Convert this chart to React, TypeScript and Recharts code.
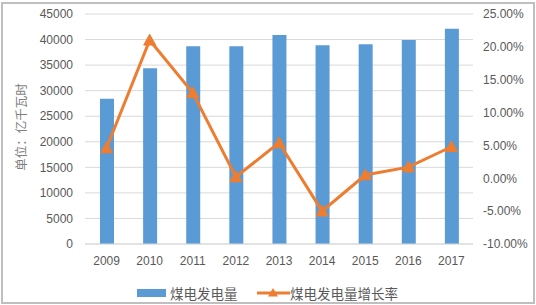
import React from 'react';
import { ComposedChart, Bar, Line, XAxis, YAxis, CartesianGrid, Legend } from 'recharts';

const years = ['2009', '2010', '2011', '2012', '2013', '2014', '2015', '2016', '2017'];
const coalPower = [28400, 34400, 38700, 38700, 40900, 38900, 39100, 39900, 42100];
const growthRate = [0.046, 0.21, 0.13, 0.002, 0.054, -0.05, 0.005, 0.017, 0.048];
const leftTicks = [0, 5000, 10000, 15000, 20000, 25000, 30000, 35000, 40000, 45000];
const rightTicks = [-0.1, -0.05, 0, 0.05, 0.1, 0.15, 0.2, 0.25];
const barName = '煤电发电量';
const lineName = '煤电发电量增长率';
const yLabel = '单位：亿千瓦时';

const data = years.map((y, i) => ({ year: y, power: coalPower[i], rate: growthRate[i] }));

const BLUE = '#5B9BD5';
const ORANGE = '#ED7D31';
const TEXT = '#595959';
const FONT = '"Liberation Sans", Arial, sans-serif';
const CJK = '"Noto Sans CJK SC", sans-serif';

const Triangle = (props: any) => {
  const { cx, cy } = props;
  if (cx == null || cy == null) return null;
  const s = 6;
  return (
    <polygon
      points={`${cx},${cy - s} ${cx + s},${cy + s * 0.8} ${cx - s},${cy + s * 0.8}`}
      fill={ORANGE}
      stroke={ORANGE}
    />
  );
};

const YLabel = () => {
  const x = 20;
  const y = 127;
  return (
    <text
      x={x}
      y={y}
      transform={`rotate(-90 ${x} ${y})`}
      textAnchor="middle"
      dominantBaseline="central"
      fill="#7F7F7F"
      fontSize={12.5}
      fontFamily={CJK}
    >
      {yLabel}
    </text>
  );
};

const LegendContent = () => (
  <div style={{ position: 'relative', height: 20, width: 536 }}>
    <div style={{ position: 'absolute', left: 137, top: 6, width: 29, height: 8, background: BLUE }} />
    <span style={{ position: 'absolute', left: 170, top: 0, fontSize: 13.5, lineHeight: '20px', color: TEXT, fontFamily: CJK, whiteSpace: 'nowrap' }}>{barName}</span>
    <svg style={{ position: 'absolute', left: 256, top: 0 }} width={34} height={20}>
      <line x1={1} y1={10} x2={34} y2={10} stroke={ORANGE} strokeWidth={3} />
      <polygon points="17,5 22,13.5 12,13.5" fill={ORANGE} />
    </svg>
    <span style={{ position: 'absolute', left: 290, top: 0, fontSize: 13.5, lineHeight: '20px', color: TEXT, fontFamily: CJK, whiteSpace: 'nowrap' }}>{lineName}</span>
  </div>
);

export default function App() {
  return (
    <div style={{ position: 'absolute', left: 0, top: 0, width: 536, height: 305, background: '#fff' }}>
      <ComposedChart
        width={536}
        height={305}
        data={data}
        margin={{ top: 14, right: 0, bottom: 2, left: 0 }}
      >
        <CartesianGrid vertical={false} stroke="#D9D9D9" yAxisId="left" />
        <XAxis
          dataKey="year"
          height={39}
          tickLine={false}
          tickSize={0}
          tickMargin={12}
          axisLine={{ stroke: '#D9D9D9' }}
          tick={{ fill: TEXT, fontSize: 12, fontFamily: FONT }}
        />
        <YAxis
          yAxisId="left"
          width={85}
          domain={[0, 45000]}
          ticks={leftTicks}
          tickLine={false}
          axisLine={false}
          tickSize={0}
          tickMargin={12}
          interval={0}
          tick={{ fill: TEXT, fontSize: 12, fontFamily: FONT }}
          label={<YLabel />}
        />
        <YAxis
          yAxisId="right"
          orientation="right"
          width={63}
          domain={[-0.1, 0.25]}
          ticks={rightTicks}
          tickLine={false}
          axisLine={false}
          tickSize={0}
          tickMargin={10}
          interval={0}
          tickFormatter={(v: number) => (v * 100).toFixed(2) + '%'}
          tick={{ fill: TEXT, fontSize: 12, fontFamily: FONT }}
        />
        <Bar yAxisId="left" dataKey="power" name={barName} fill={BLUE} barSize={14} isAnimationActive={false} />
        <Line
          yAxisId="right"
          dataKey="rate"
          name={lineName}
          stroke={ORANGE}
          strokeWidth={3}
          dot={<Triangle />}
          activeDot={false}
          isAnimationActive={false}
        />
        <Legend verticalAlign="bottom" height={20} content={<LegendContent />} wrapperStyle={{ left: 0, width: 536 }} />
      </ComposedChart>
      <div style={{ position: 'absolute', left: 1, top: 2, width: 534, height: 302, boxSizing: 'border-box', border: '2px solid #BFBFBF', pointerEvents: 'none' }} />
    </div>
  );
}
